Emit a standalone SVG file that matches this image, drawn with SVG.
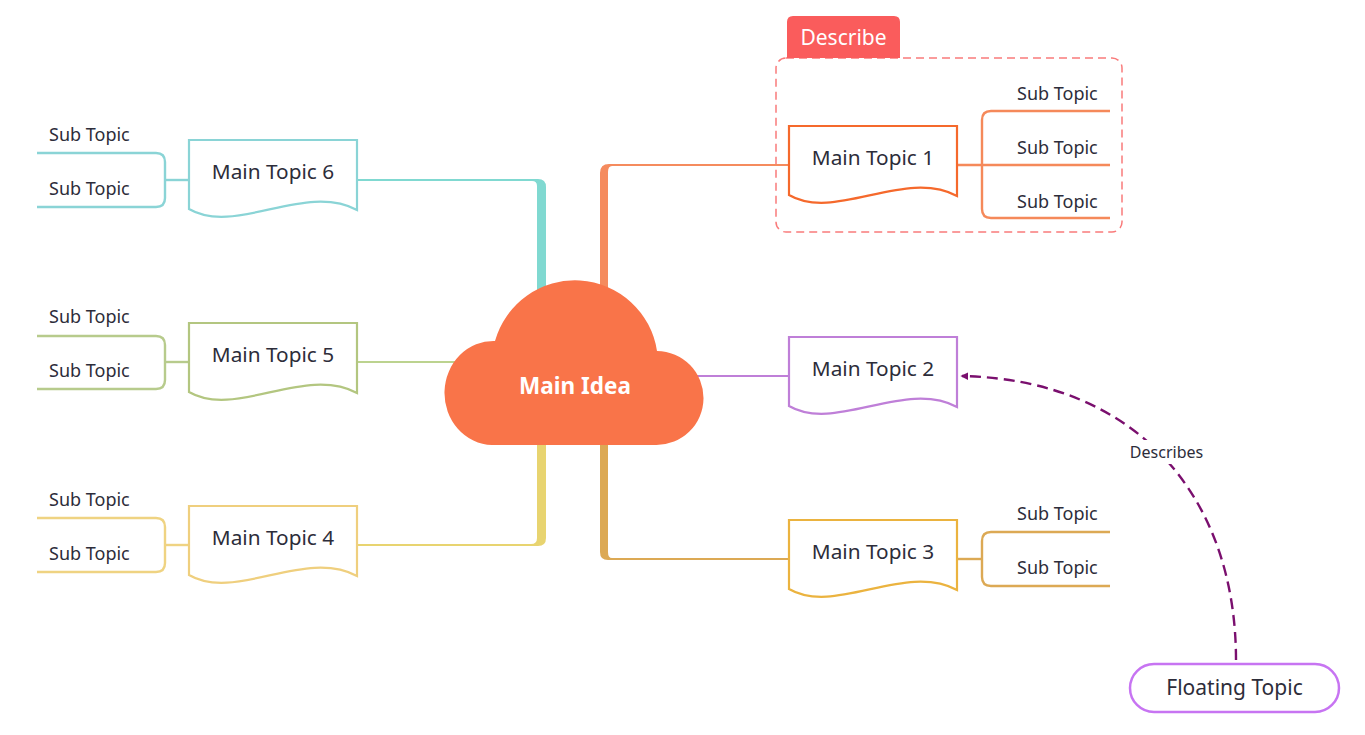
<svg xmlns="http://www.w3.org/2000/svg" width="1365" height="735" viewBox="0 0 1365 735">
<style>
text{font-family:"Noto Sans","Liberation Sans",sans-serif;fill:#2d2d3a;}
.mt{font-size:20.8px;text-anchor:middle;}
.st{font-size:18px;}
.box{fill:#fff;stroke-width:2.2;}
.ln{fill:none;stroke-width:2.4;}
</style>
<defs>
<marker id="arr" viewBox="0 0 10 10" refX="8" refY="5" markerWidth="8" markerHeight="8" orient="auto-start-reverse" markerUnits="userSpaceOnUse">
<path d="M0,0 L10,5 L0,10 Z" fill="#7a0f6e"/>
</marker>
</defs>
<rect width="1365" height="735" fill="#fff"/>

<g id="boundary">
<rect x="776" y="58" width="346" height="174" rx="10" fill="none" stroke="#f97b7b" stroke-width="1.5" stroke-dasharray="8,5"/>
<path d="M787,58 V22 Q787,16 793,16 H894 Q900,16 900,22 V58 Z" fill="#fa5c5c"/>
<text x="843.5" y="45" font-size="21" text-anchor="middle" style="fill:#fff">Describe</text>
</g>

<g id="connectors">
<path d="M600,300 V173 Q600,164 609,164 H789 V166 H612 Q608,166 608,172 V300 Z" fill="#f58b5e"/>
<path d="M537,300 V186 Q537,181 532,181 H357 V179 H538 Q546,179 546,187 V300 Z" fill="#80d9d1"/>
<line x1="357" y1="362" x2="460" y2="362" stroke="#bcd38f" stroke-width="2.2"/>
<path d="M537,440 V538 Q537,544 531,544 H357 V546 H538 Q546,546 546,538 V440 Z" fill="#e8d470"/>
<path d="M600,440 V552 Q600,560 608,560 H789 V558 H612 Q608,558 608,552 V440 Z" fill="#dca954"/>
<line x1="690" y1="376" x2="789" y2="376" stroke="#bf7fd8" stroke-width="2.2"/>

<g stroke="#f5895a" class="ln">
<path d="M957,165 H1110"/>
<path d="M1110,111 H991 Q982,111 982,120 V209 Q982,218 991,218 H1110"/>
</g>
<g stroke="#dca954" class="ln">
<path d="M957,559 H982"/>
<path d="M1110,532 H991 Q982,532 982,541 V577 Q982,586 991,586 H1110"/>
</g>
<g stroke="#8ad4d6" class="ln">
<path d="M189,180 H165"/>
<path d="M37,153 H156 Q165,153 165,162 V198 Q165,207 156,207 H37"/>
</g>
<g stroke="#b7cb8c" class="ln">
<path d="M189,362 H165"/>
<path d="M37,336 H156 Q165,336 165,345 V380 Q165,389 156,389 H37"/>
</g>
<g stroke="#efd382" class="ln">
<path d="M189,545 H165"/>
<path d="M37,518 H156 Q165,518 165,527 V563 Q165,572 156,572 H37"/>
</g>

<path d="M1236,660 C1236,500 1140,380 962,376" fill="none" stroke="#7a0f6e" stroke-width="2.4" stroke-dasharray="11,6" marker-end="url(#arr)"/>
<rect x="1125" y="440" width="83" height="24" fill="#fff"/>
<text x="1166.5" y="458" font-size="16" text-anchor="middle">Describes</text>
</g>

<g id="main-idea">
<path d="M492,445 A49,52 0 0 1 495,341 A83,83 0 0 1 657,351 A47,47 0 0 1 656,445 Z" fill="#f97449"/>
<text x="575" y="394" font-size="22.5" font-weight="bold" text-anchor="middle" style="fill:#fff">Main Idea</text>
</g>

<g id="topic1">
<path class="box" stroke="#f5692c" d="M789,126 H957 V196 C905,168 835,222 789,195 Z"/>
<text class="mt" x="873" y="165">Main Topic 1</text>
</g>
<g id="topic2">
<path class="box" stroke="#bf7fd8" d="M789,337 H957 V407 C905,379 835,433 789,406 Z"/>
<text class="mt" x="873" y="376">Main Topic 2</text>
</g>
<g id="topic3">
<path class="box" stroke="#ebb33f" d="M789,520 H957 V590 C905,562 835,616 789,589 Z"/>
<text class="mt" x="873" y="559">Main Topic 3</text>
</g>
<g id="topic4">
<path class="box" stroke="#efcf7e" d="M189,506 H357 V576 C305,548 235,602 189,575 Z"/>
<text class="mt" x="273" y="545">Main Topic 4</text>
</g>
<g id="topic5">
<path class="box" stroke="#b3c680" d="M189,323 H357 V393 C305,365 235,419 189,392 Z"/>
<text class="mt" x="273" y="362">Main Topic 5</text>
</g>
<g id="topic6">
<path class="box" stroke="#8ad4d6" d="M189,140 H357 V210 C305,182 235,236 189,209 Z"/>
<text class="mt" x="273" y="179">Main Topic 6</text>
</g>

<g id="subtopics">
<text class="st" x="1017" y="100">Sub Topic</text>
<text class="st" x="1017" y="154">Sub Topic</text>
<text class="st" x="1017" y="208">Sub Topic</text>
<text class="st" x="1017" y="520">Sub Topic</text>
<text class="st" x="1017" y="574">Sub Topic</text>
<text class="st" x="49" y="141">Sub Topic</text>
<text class="st" x="49" y="195">Sub Topic</text>
<text class="st" x="49" y="323">Sub Topic</text>
<text class="st" x="49" y="377">Sub Topic</text>
<text class="st" x="49" y="506">Sub Topic</text>
<text class="st" x="49" y="560">Sub Topic</text>
</g>

<g id="floating-topic">
<rect x="1130" y="664" width="209" height="48" rx="24" fill="#fff" stroke="#c774f2" stroke-width="2.5"/>
<text x="1234.5" y="695" font-size="21" text-anchor="middle">Floating Topic</text>
</g>
</svg>
